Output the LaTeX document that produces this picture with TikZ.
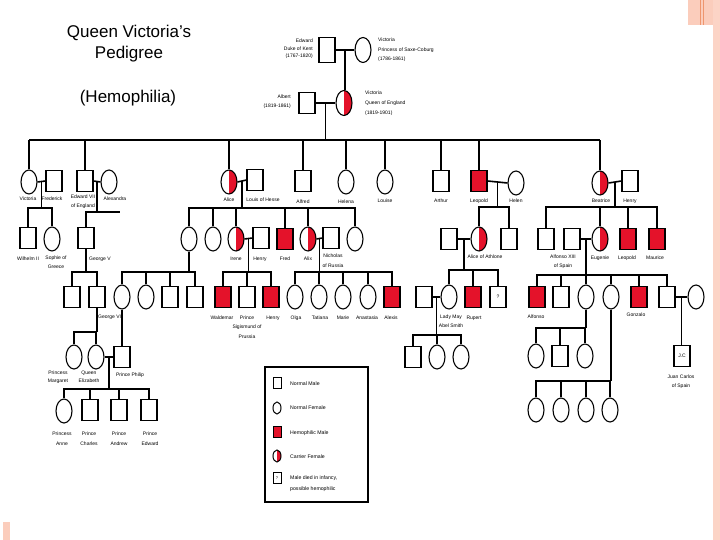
\documentclass[tikz,border=0pt]{standalone}
\usepackage{fontspec}
\setmainfont{Liberation Sans}
\usetikzlibrary{shapes.geometric,calc}
\definecolor{hred}{RGB}{228,18,42}
\definecolor{peach}{RGB}{251,205,188}
\definecolor{peachd}{RGB}{238,150,110}
\begin{document}
\begin{tikzpicture}[x=1pt,y=-1pt,
 pm/.style={rectangle,draw,line width=1.1pt,minimum width=16pt,minimum height=21pt,inner sep=0pt},
 pf/.style={ellipse,draw,line width=1.1pt,minimum width=16pt,minimum height=24pt,inner sep=0pt},
 hm/.style={pm,fill=hred},
 cf/.style={pf,path picture={\fill[hred] (path picture bounding box.north) rectangle (path picture bounding box.south east);}},
 qm/.style={pm,font=\fontsize{5}{5}\selectfont},
 lk/.style={line width=1.6pt},
 lab/.style={font=\fontsize{5}{8}\selectfont,inner sep=0pt,align=center},
 lgm/.style={rectangle,draw,line width=1pt,minimum width=8pt,minimum height=11pt,inner sep=0pt},
 lgf/.style={ellipse,draw,line width=1pt,minimum width=8pt,minimum height=12pt,inner sep=0pt},
 lgt/.style={font=\fontsize{5.2}{11}\selectfont,inner sep=0pt,anchor=west,align=left},
 ttl/.style={font=\fontsize{17}{21}\selectfont,align=center,inner sep=0pt}
]
\useasboundingbox (0,0) rectangle (720,540);
\fill[white] (0,0) rectangle (720,540);
% decorations
\fill[peach] (688,0) rectangle (713,25);
\draw[peachd,line width=0.6pt] (700,0) -- (700,25);
\draw[peachd,line width=0.6pt] (703,0) -- (703,25);
\fill[peach!85] (713,0) rectangle (720,540);
\fill[peach] (3,522) rectangle (10,540);
% title
\node[ttl] (title) at (129,44) {Queen Victoria’s\\Pedigree};
\node[ttl] (hemo) at (128,98) {(Hemophilia)};
% generation 0
\node[pm,minimum height=25pt] (edw) at (327,50) {};
\node[pf,minimum height=25pt] (vmo) at (363,50) {};
\node[lab,align=right,anchor=east,font=\fontsize{5}{7.5}\selectfont] (edwl) at (313,49) {Edward\\Duke of Kent\\(1767-1820)};
\node[lab,align=left,anchor=west,font=\fontsize{5}{9.5}\selectfont] (vmol) at (378,50) {Victoria\\Princess of Saxe-Coburg\\(1786-1861)};
\draw[lk] (edw.east) -- (vmo.west);
\coordinate (m0) at ($(edw.east)!0.5!(vmo.west)$);
\node[pm] (alb) at (307,103) {};
\node[cf,minimum height=25pt] (qv) at (344,103) {};
\node[lab,align=right,anchor=east,font=\fontsize{5}{9}\selectfont] (albl) at (291,102) {Albert\\(1819-1861)};
\node[lab,align=left,anchor=west,font=\fontsize{5}{10}\selectfont] (qvl) at (365,103) {Victoria\\Queen of England\\(1819-1901)};
\draw[lk] (m0) -- (m0 |- qv.north);
\draw[lk] (alb.east) -- (qv.west);
\coordinate (m1) at ($(alb.east)!0.5!(qv.west)$);
\coordinate (b0) at (0,140);
\draw[lk] (m1) -- (m1 |- b0);
% generation 1
\node[pf] (vic) at (29,182) {};
\node[pm] (frd) at (54,181) {};
\node[pm] (ed7) at (85,181) {};
\node[pf] (alx) at (109,182) {};
\node[cf] (ali) at (229,182) {};
\node[pm] (lou) at (255,180) {};
\node[pm] (alf) at (303,181) {};
\node[pf] (hel) at (346,182) {};
\node[pf] (lse) at (385,182) {};
\node[pm] (art) at (441,181) {};
\node[hm] (leo) at (479,181) {};
\node[pf] (hln) at (516,183) {};
\node[cf] (bea) at (600,183) {};
\node[pm] (hen) at (630,181) {};
\draw[lk] (vic.north |- b0) -- (bea.north |- b0);
\foreach \n in {vic,ed7,ali,alf,hel,lse,art,leo,bea} \draw[lk] (\n.north) -- (\n.north |- b0);
\node[lab] (vicl) at (28,199) {Victoria};
\node[lab] (frdl) at (52,199) {Frederick};
\node[lab,font=\fontsize{5}{9}\selectfont] (ed7l) at (83,202) {Edward VII\\of England};
\node[lab] (alxl) at (115,199) {Alexandra};
\node[lab] (alil) at (229,200) {Alice};
\node[lab] (loul) at (263,200) {Louis of Hesse};
\node[lab] (alfl) at (303,202) {Alfred};
\node[lab] (hell) at (346,202) {Helena};
\node[lab] (lsel) at (385,201) {Louise};
\node[lab] (artl) at (441,201) {Arthur};
\node[lab] (leol) at (479,201) {Leopold};
\node[lab] (hlnl) at (516,201) {Helen};
\node[lab] (beal) at (601,201) {Beatrice};
\node[lab] (henl) at (630,201) {Henry};
% marriages gen 1
\draw[lk] (vic.east) -- (frd.west);
\coordinate (mv) at ($(vic.east)!0.5!(frd.west)$);
\draw[lk] (ed7.east) -- (alx.west);
\coordinate (me) at ($(ed7.east)!0.5!(alx.west)$);
\draw[lk] (ali.east) -- (lou.west);
\coordinate (ma) at ($(ali.east)!0.5!(lou.west)$);
\draw[lk] (leo.east) -- (hln.west);
\coordinate (ml) at ($(leo.east)!0.5!(hln.west)$);
\draw[lk] (bea.east) -- (hen.west);
\coordinate (mb) at ($(bea.east)!0.5!(hen.west)$);
% generation 2
\node[pm] (wil) at (28,238) {};
\node[pf] (sop) at (52,239) {};
\node[pm] (gv) at (86,238) {};
\node[pf] (a1) at (189,239) {};
\node[pf] (a2) at (213,239) {};
\node[cf] (ire) at (236,239) {};
\node[pm] (hn2) at (261,238) {};
\node[hm] (fre) at (285,239) {};
\node[cf] (aix) at (308,239) {};
\node[pm] (nic) at (331,238) {};
\node[pf] (a6) at (355,239) {};
\node[pm] (aot) at (449,239) {};
\node[cf] (aoa) at (479,239) {};
\node[pm] (che) at (509,239) {};
\node[pm] (bk1) at (546,239) {};
\node[pm] (a13) at (572,239) {};
\node[cf] (eug) at (600,239) {};
\node[hm] (le2) at (628,239) {};
\node[hm] (mau) at (657,239) {};
% bars gen 2
\coordinate (b1) at (0,208);
\draw[lk] (mv) -- (mv |- b1);
\draw[lk] (wil.north) -- (wil.north |- b1) -- (sop.north |- b1) -- (sop.north);
\coordinate (b2) at (0,212);
\coordinate (b2e) at (120,212);
\draw[lk] (me) -- (me |- b2);
\draw[lk] (gv.north) -- (gv.north |- b2) -- (b2e);
\coordinate (b3) at (0,208);
\draw[lk] (ma) -- (ma |- b3);
\draw[lk] (a1.north) -- (a1.north |- b3) -- (a6.north |- b3) -- (a6.north);
\foreach \n in {a2,ire,fre,aix} \draw[lk] (\n.north) -- (\n.north |- b3);
\coordinate (b4) at (0,207);
\draw[lk] (ml) -- (ml |- b4);
\draw[lk] (aoa.north) -- (aoa.north |- b4) -- (che.north |- b4) -- (che.north);
\draw[lk] (mb) -- (mb |- b4);
\draw[lk] (bk1.north) -- (bk1.north |- b4) -- (mau.north |- b4) -- (mau.north);
\foreach \n in {eug,le2} \draw[lk] (\n.north) -- (\n.north |- b4);
% labels gen 2
\node[lab] (will) at (28,259) {Wilhelm II};
\node[lab,font=\fontsize{5}{9}\selectfont] (sopl) at (56,262) {Sophie of\\Greece};
\node[lab,anchor=west] (gvl) at (89,259) {George V};
\node[lab] (irel) at (236,259) {Irene};
\node[lab] (hn2l) at (260,259) {Henry};
\node[lab] (frel) at (285,259) {Fred};
\node[lab] (aixl) at (308,259) {Alix};
\node[lab,font=\fontsize{5}{10}\selectfont] (nicl) at (333,261) {Nicholas\\of Russia};
\node[lab] (aoal) at (485,257) {Alice of Athlone};
\node[lab,font=\fontsize{5}{9}\selectfont] (a13l) at (563,262) {Alfonso XIII\\of Spain};
\node[lab] (eugl) at (600,258) {Eugenie};
\node[lab] (le2l) at (627,258) {Leopold};
\node[lab] (maul) at (655,258) {Maurice};
% marriages gen 2
\draw[lk] (ire.east) -- (hn2.west);
\coordinate (mi) at ($(ire.east)!0.5!(hn2.west)$);
\draw[lk] (aix.east) -- (nic.west);
\coordinate (mn) at ($(aix.east)!0.5!(nic.west)$);
\draw[lk] (aot.east) -- (aoa.west);
\coordinate (mo) at ($(aot.east)!0.5!(aoa.west)$);
\draw[lk] (a13.east) -- (eug.west);
\coordinate (mf) at ($(a13.east)!0.5!(eug.west)$);
% generation 3
\node[pm] (g4a) at (72,297) {};
\node[pm] (g6) at (97,297) {};
\node[pf] (p1) at (122,297) {};
\node[pf] (p2) at (146,297) {};
\node[pm] (p3) at (170,297) {};
\node[pm] (p4) at (195,297) {};
\node[hm] (wal) at (223,297) {};
\node[pm] (sig) at (247,297) {};
\node[hm] (hry) at (271,297) {};
\node[pf] (olg) at (295,297) {};
\node[pf] (tat) at (319,297) {};
\node[pf] (mar) at (343,297) {};
\node[pf] (ana) at (368,297) {};
\node[hm] (axs) at (392,297) {};
\node[pm] (lmh) at (424,297) {};
\node[pf] (lmy) at (449,297) {};
\node[hm] (rup) at (473,297) {};
\node[qm] (unk) at (498,297) {?};
\node[hm] (afo) at (537,297) {};
\node[pm] (s2) at (561,297) {};
\node[pf] (c3) at (586,297) {};
\node[pf] (c4) at (611,297) {};
\node[hm] (gon) at (639,297) {};
\node[pm] (s6) at (667,297) {};
\node[pf] (w6) at (696,297) {};
% bars gen 3
\coordinate (b6) at (0,272);
\draw[lk] (gv.south) -- (gv.south |- b6);
\draw[lk] (g4a.north) -- (g4a.north |- b6) -- (g6.north |- b6) -- (g6.north);
\draw[lk] (a1.south) -- (a1.south |- b6);
\draw[lk] (p1.north) -- (p1.north |- b6) -- (p4.north |- b6) -- (p4.north);
\foreach \n in {p2,p3} \draw[lk] (\n.north) -- (\n.north |- b6);
\draw[lk] (mi) -- (mi |- b6);
\draw[lk] (wal.north) -- (wal.north |- b6) -- (hry.north |- b6) -- (hry.north);
\draw[lk] (sig.north) -- (sig.north |- b6);
\draw[lk] (mn) -- (mn |- b6);
\draw[lk] (olg.north) -- (olg.north |- b6) -- (axs.north |- b6) -- (axs.north);
\foreach \n in {tat,mar,ana} \draw[lk] (\n.north) -- (\n.north |- b6);
\coordinate (b7) at (0,270);
\draw[lk] (mo) -- (mo |- b7);
\draw[lk] (lmy.north) -- (lmy.north |- b7) -- (unk.north |- b7) -- (unk.north);
\draw[lk] (rup.north) -- (rup.north |- b7);
\coordinate (b8) at (0,275);
\draw[lk] (mf) -- (mf |- b8);
\draw[lk] (afo.north) -- (afo.north |- b8) -- (s6.north |- b8) -- (s6.north);
\foreach \n in {s2,c3,c4,gon} \draw[lk] (\n.north) -- (\n.north |- b8);
% labels gen 3
\node[lab,anchor=west] (g6l) at (98,317) {George VI};
\node[lab] (wall) at (222,318) {Waldemar};
\node[lab,font=\fontsize{5}{9.5}\selectfont] (sigl) at (247,327) {Prince\\Sigismund of\\Prussia};
\node[lab] (hryl) at (273,318) {Henry};
\node[lab] (olgl) at (296,318) {Olga};
\node[lab] (tatl) at (320,318) {Tatiana};
\node[lab] (marl) at (343,318) {Marie};
\node[lab] (anal) at (367,318) {Anastasia};
\node[lab] (axsl) at (391,318) {Alexis};
\node[lab,font=\fontsize{5}{9}\selectfont] (lmyl) at (451,321) {Lady May\\Abel Smith};
\node[lab] (rupl) at (474,318) {Rupert};
\node[lab] (afol) at (536,317) {Alfonso};
\node[lab] (gonl) at (636,315) {Gonzalo};
% marriages gen 3
\draw[lk] (lmh.east) -- (lmy.west);
\coordinate (mh) at ($(lmh.east)!0.5!(lmy.west)$);
\draw[lk] (s6.east) -- (w6.west);
\coordinate (ms) at ($(s6.east)!0.5!(w6.west)$);
% generation 4
\node[pf] (mgt) at (74,357) {};
\node[pf] (eli) at (96,357) {};
\node[pm] (phi) at (122,357) {};
\node[pm] (r1) at (413,357) {};
\node[pf] (r2) at (437,357) {};
\node[pf] (r3) at (461,357) {};
\node[pf] (q1) at (536,356) {};
\node[pm] (q2) at (560,356) {};
\node[pf] (q3) at (585,356) {};
\node[pm,font=\fontsize{5}{5}\selectfont] (jc) at (682,356) {J.C};
\coordinate (b9) at (0,332);
\draw[lk] (g6.south) -- (g6.south |- b9);
\draw[lk] (mgt.north) -- (mgt.north |- b9) -- (eli.north |- b9) -- (eli.north);
\draw[lk] (p1.south) -- (phi.north);
\draw[lk] (eli.east) -- (phi.west);
\coordinate (mq) at ($(eli.east)!0.5!(phi.west)$);
\coordinate (b10) at (0,335);
\draw[lk] (mh) -- (mh |- b10);
\draw[lk] (r1.north) -- (r1.north |- b10) -- (r3.north |- b10) -- (r3.north);
\draw[lk] (r2.north) -- (r2.north |- b10);
\coordinate (b11) at (0,328);
\draw[lk] (c3.south) -- (c3.south |- b11);
\draw[lk] (q1.north) -- (q1.north |- b11) -- (q3.north |- b11) -- (q3.north);
\draw[lk] (q2.north) -- (q2.north |- b11);
\draw[lk] (ms) -- (ms |- jc.north);
\node[lab,font=\fontsize{5}{8.5}\selectfont] (mgtl) at (58,377) {Princess\\Margaret};
\node[lab,font=\fontsize{5}{8.5}\selectfont] (elil) at (89,377) {Queen\\Elizabeth};
\node[lab] (phil) at (130,375) {Prince Philip};
\node[lab,font=\fontsize{5}{9}\selectfont] (jcl) at (681,382) {Juan Carlos\\of Spain};
% generation 5
\node[pf] (ann) at (64,411) {};
\node[pm] (cha) at (90,410) {};
\node[pm] (and) at (119,410) {};
\node[pm] (ed5) at (149,410) {};
\coordinate (b12) at (0,389);
\draw[lk] (mq) -- (mq |- b12);
\draw[lk] (ann.north) -- (ann.north |- b12) -- (ed5.north |- b12) -- (ed5.north);
\foreach \n in {cha,and} \draw[lk] (\n.north) -- (\n.north |- b12);
\node[lab,font=\fontsize{5}{10}\selectfont] (annl) at (62,439) {Princess\\Anne};
\node[lab,font=\fontsize{5}{10}\selectfont] (chal) at (89,439) {Prince\\Charles};
\node[lab,font=\fontsize{5}{10}\selectfont] (andl) at (119,439) {Prince\\Andrew};
\node[lab,font=\fontsize{5}{10}\selectfont] (ed5l) at (150,439) {Prince\\Edward};
\node[pf] (t1) at (536,410) {};
\node[pf] (t2) at (561,410) {};
\node[pf] (t3) at (586,410) {};
\node[pf] (t4) at (610,410) {};
\coordinate (b13) at (0,381);
\draw[lk] (c4.south) -- (c4.south |- b13);
\draw[lk] (t1.north) -- (t1.north |- b13) -- (t4.north |- b13) -- (t4.north);
\foreach \n in {t2,t3} \draw[lk] (\n.north) -- (\n.north |- b13);
% legend
\node[draw,line width=1.5pt,minimum width=103pt,minimum height=135pt,inner sep=0pt] (leg) at (316.5,434.5) {};
\node[lgm] (k1) at (277,383) {};
\node[lgt] (k1t) at (290,384) {Normal Male};
\node[lgf] (k2) at (277,408) {};
\node[lgt] (k2t) at (290,408) {Normal Female};
\node[lgm,fill=hred] (k3) at (277,432) {};
\node[lgt] (k3t) at (290,433) {Hemophilic Male};
\node[lgf,path picture={\fill[hred] (path picture bounding box.north) rectangle (path picture bounding box.south east);}] (k4) at (277,456) {};
\node[lgt] (k4t) at (290,457) {Carrier Female};
\node[lgm,font=\fontsize{4}{4}\selectfont] (k5) at (277,478) {?};
\node[lgt] (k5t) at (290,484) {Male died in infancy,\\possible hemophilic};
\end{tikzpicture}
\end{document}
